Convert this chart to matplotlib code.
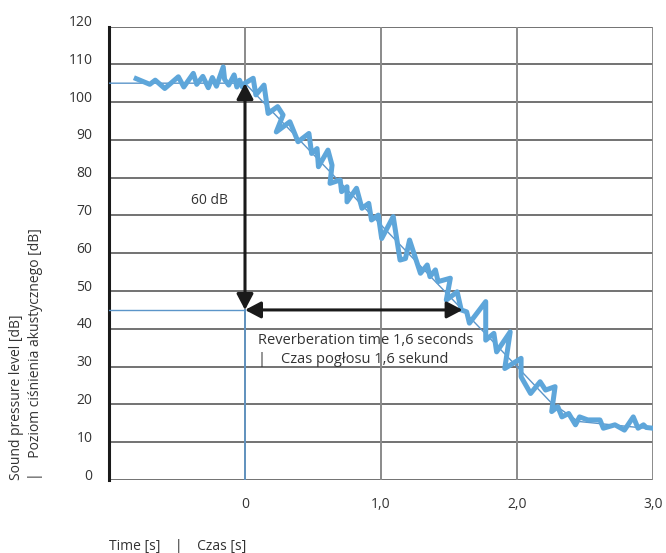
import matplotlib
matplotlib.use("Agg")
import matplotlib.pyplot as plt
import matplotlib.transforms as mtransforms

# measured decay (thick line), time [s] / level [dB]
t_meas = [-0.80, -0.70, -0.66, -0.59, -0.49, -0.45, -0.38, -0.355, -0.31, -0.27,
          -0.24, -0.21, -0.16, -0.15, -0.12, -0.08, -0.06, -0.04, -0.02, 0.00,
          0.06, 0.08, 0.14, 0.17, 0.24, 0.28, 0.23, 0.33, 0.39, 0.47,
          0.49, 0.53, 0.54, 0.61, 0.64, 0.625, 0.70, 0.71, 0.75, 0.75,
          0.82, 0.86, 0.91, 0.93, 0.98, 1.005, 1.09, 1.14, 1.18, 1.21,
          1.29, 1.34, 1.36, 1.40, 1.42, 1.51, 1.48, 1.56, 1.59, 1.63,
          1.65, 1.77, 1.77, 1.83, 1.85, 1.95, 1.91, 2.03, 2.03, 2.10,
          2.17, 2.21, 2.28, 2.255, 2.30, 2.33, 2.38, 2.43, 2.46, 2.52,
          2.61, 2.635, 2.72, 2.79, 2.855, 2.89, 2.93, 2.95, 3.00]
L_meas = [106.2, 104.7, 105.8, 103.6, 106.7, 104.0, 107.6, 104.7, 106.8, 103.8,
          106.5, 104.2, 109.3, 106.0, 104.5, 107.2, 104.0, 105.8, 104.0, 105.0,
          106.3, 101.9, 104.5, 97.0, 98.8, 96.6, 92.1, 94.8, 89.5, 91.7,
          86.4, 87.7, 82.9, 87.3, 83.3, 78.5, 79.4, 76.3, 77.6, 73.6,
          77.2, 71.9, 73.2, 68.8, 70.1, 63.9, 69.7, 58.2, 58.6, 63.5,
          54.7, 56.9, 53.8, 55.6, 52.5, 53.4, 47.6, 49.8, 45.0, 44.5,
          41.5, 47.2, 37.0, 38.8, 33.9, 39.2, 29.5, 32.2, 27.3, 22.9,
          26.0, 23.8, 24.7, 18.1, 19.4, 16.7, 17.6, 14.6, 16.7, 15.9,
          15.9, 13.7, 14.6, 13.2, 16.7, 13.7, 14.6, 13.9, 13.7]

# fitted decay (thin line)
t_fit = [-1.0, 0.0, 2.0, 2.25, 2.45, 3.0]
L_fit = [105, 105, 30, 20.5, 15.5, 13.5]

start_level = 105
end_level = 45
rt_seconds = 1.6

y_ticks = list(range(0, 130, 10))
x_ticks = [0, 1, 2, 3]
x_ticklabels = ["0", "1,0", "2,0", "3,0"]

BLUE = "#5ea6da"
THIN = "#5b95c9"
TXT = "#333333"

plt.rcParams["font.family"] = ["Open Sans", "DejaVu Sans"]

fig = plt.figure(figsize=(6.66, 5.53), dpi=100)
ax = fig.add_axes([109 / 666, 1 - 480 / 553, (653 - 109) / 666, (480 - 26.5) / 553])
ax.set_xlim(-1, 3)
ax.set_ylim(0, 120)

for y in y_ticks:
    ax.axhline(y, color="#5a5a5a", lw=1.2, zorder=1)
for x in x_ticks:
    ax.axvline(x, color="#8a8a8a", lw=1.4, zorder=1)

for s in ["top", "right", "bottom"]:
    ax.spines[s].set_visible(False)
ax.spines["left"].set_linewidth(2.2)
ax.spines["left"].set_color("#1a1a1a")

ax.set_yticks(y_ticks)
ax.set_xticks(x_ticks)
ax.set_xticklabels(x_ticklabels)
ax.tick_params(length=0, labelsize=10, labelcolor=TXT)
ax.tick_params(axis="y", pad=12)
ax.tick_params(axis="x", pad=12)
off = mtransforms.ScaledTranslation(0, 6 / 100, fig.dpi_scale_trans)
for lab in ax.get_yticklabels():
    lab.set_transform(lab.get_transform() + off)

# thin guide lines
ax.plot(t_fit, L_fit, color=THIN, lw=1.0, zorder=3)
ax.plot([-1, 0], [end_level, end_level], color=THIN, lw=1.0, zorder=3)
ax.plot([0, 0], [0, end_level], color=THIN, lw=1.2, zorder=3)

# measured curve
ax.plot(t_meas, L_meas, color=BLUE, lw=3.6, solid_joinstyle="round", zorder=4)

# arrows
arr = dict(arrowstyle="<|-|>,head_length=0.95,head_width=0.5", color="#1a1a1a", lw=2.2,
           shrinkA=0, shrinkB=0)
ax.annotate("", xy=(0, start_level), xytext=(0, end_level), arrowprops=arr, zorder=5)
ax.annotate("", xy=(rt_seconds, end_level), xytext=(0, end_level), arrowprops=arr, zorder=5)

ax.text(-0.26, 74.0, "60 dB", fontsize=10, color=TXT, ha="center", va="center")
ax.text(0.095, 34.4, "Reverberation time 1,6 seconds\n|    Czas pogłosu 1,6 sekund",
        fontsize=10.5, color=TXT, ha="left", va="center", linespacing=1.3)

fig.text(26 / 666, 1 - 480 / 553, "Sound pressure level [dB]\n|    Poziom ciśnienia akustycznego [dB]",
         rotation=90, ha="center", va="bottom", multialignment="left", fontsize=10, color=TXT,
         linespacing=1.35)
fig.text(109 / 666, 1 - 547 / 553, "Time [s]    |    Czas [s]", fontsize=10, color=TXT,
         ha="left", va="center")

fig.savefig("out.png", dpi=100, facecolor="white")
